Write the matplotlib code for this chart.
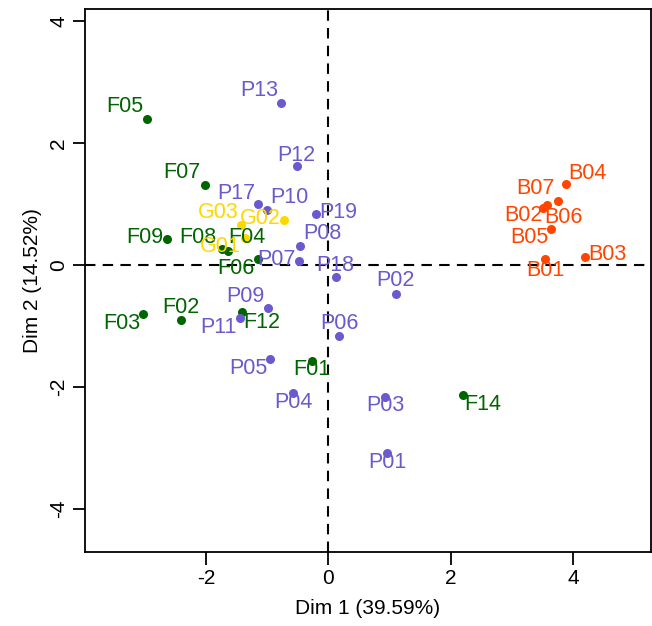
import matplotlib
matplotlib.use("Agg")
import matplotlib.pyplot as plt

plt.rcParams['font.family'] = ['Liberation Sans', 'DejaVu Sans']
plt.rcParams['axes.unicode_minus'] = False

# individuals on the first two dimensions
names = ['F01', 'F02', 'F03', 'F04', 'F05', 'F06', 'F07', 'F08', 'F09', 'F12', 'F14',
         'P01', 'P02', 'P03', 'P04', 'P05', 'P06', 'P07', 'P08', 'P09', 'P10',
         'P11', 'P12', 'P13', 'P17', 'P18', 'P19',
         'G01', 'G02', 'G03',
         'B01', 'B02', 'B03', 'B04', 'B05', 'B06', 'B07']
dim1 = [-0.275, -2.410, -3.026, -1.637, -2.961, -1.147, -2.013, -1.745, -2.634, -1.418, 2.193,
        0.961, 1.098, 0.923, -0.575, -0.956, 0.172, -0.487, -0.466, -0.993, -1.000,
        -1.446, -0.520, -0.776, -1.147, 0.118, -0.209,
        -1.364, -0.727, -1.425,
        3.538, 3.500, 4.191, 3.876, 3.636, 3.565, 3.755]
dim2 = [-1.574, -0.902, -0.808, 0.230, 2.389, 0.093, 1.307, 0.262, 0.426, -0.775, -2.131,
        -3.077, -0.475, -2.172, -2.103, -1.546, -1.164, 0.061, 0.311, -0.710, 0.902,
        -0.864, 1.618, 2.661, 1.000, -0.202, 0.836,
        0.443, 0.738, 0.661,
        0.093, 0.939, 0.136, 1.328, 0.590, 0.984, 1.054]

group_colors = {'F': '#006400', 'P': '#6A5ACD', 'G': '#FFD700', 'B': '#FF4500'}

# label offsets in pixels (dx right, dy up) as laid out in the reference
label_offsets = {
    'F01': (0, -8), 'F02': (0, 13), 'F03': (-22, -9), 'F04': (19, 13), 'F05': (-22, 13),
    'F06': (-22, -9), 'F07': (-23, 13), 'F08': (-24, 12), 'F09': (-22, 2), 'F12': (20, -10),
    'F14': (20, -10),
    'P01': (0, -10), 'P02': (0, 13), 'P03': (0, -8), 'P04': (0, -9), 'P05': (-22, -9),
    'P06': (0, 13), 'P07': (-22, 2), 'P08': (22, 13), 'P09': (-22, 12), 'P10': (22, 12),
    'P11': (-22, -10), 'P12': (0, 11), 'P13': (-22, 12), 'P17': (-22, 11), 'P18': (0, 12),
    'P19': (23, 2),
    'G01': (-25, -9), 'G02': (-24, 1), 'G03': (-23, 12),
    'B01': (0, -11), 'B02': (-19, -8), 'B03': (22, 2), 'B04': (22, 11), 'B05': (-22, -8),
    'B06': (17, -13), 'B07': (-23, 12),
}

fig = plt.figure(figsize=(6.52, 6.26), dpi=100)
ax = fig.add_axes([85 / 652, 1 - 552 / 626, (651 - 85) / 652, (552 - 9) / 626])

ax.axhline(0, color='black', lw=1.5, ls=(0, (5, 3.5)), zorder=1)
ax.axvline(0, color='black', lw=1.5, ls=(0, (5, 3.5)), zorder=1)

for n, x, y in zip(names, dim1, dim2):
    c = group_colors[n[0]]
    ax.plot(x, y, 'o', color=c, ms=6.5, mec='none', zorder=3)
    dx, dy = label_offsets[n]
    ax.annotate(n, (x, y), xytext=(dx, dy), textcoords='offset pixels',
                ha='center', va='center', color=c, fontsize=15.5, zorder=4)

ax.set_xlim(-3.979, 5.27)
ax.set_ylim(-4.705, 4.197)
ax.set_xticks([-2, 0, 2, 4])
ax.set_yticks([-4, -2, 0, 2, 4])
ax.tick_params(direction='out', length=9, width=1.3, labelsize=15, pad=3)
for lab in ax.get_yticklabels():
    lab.set_rotation(90)
    lab.set_va('center')
for s in ax.spines.values():
    s.set_linewidth(1.3)

ax.set_xlabel('Dim 1 (39.59%)', fontsize=15, labelpad=8)
ax.set_ylabel('Dim 2 (14.52%)', fontsize=15, labelpad=5)

fig.savefig('out.png', dpi=100)
